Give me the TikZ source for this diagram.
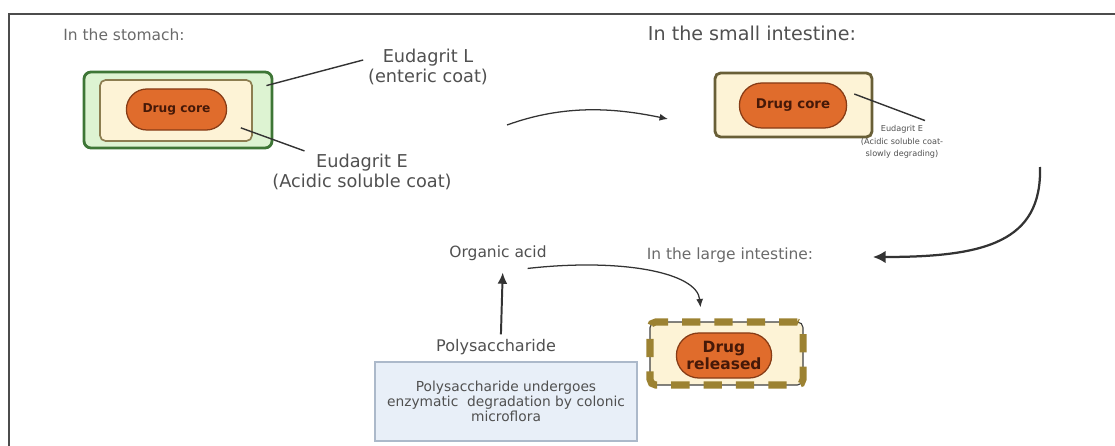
\documentclass[tikz,border=0pt]{standalone}
\usepackage{fontspec}
\setmainfont{DejaVu Sans}
\usepackage{xcolor}
\definecolor{mygreen}{RGB}{221,243,210}
\definecolor{mydarkgreen}{RGB}{62,118,54}
\definecolor{mycream}{RGB}{253,243,214}
\definecolor{myolive}{RGB}{140,125,80}
\definecolor{mydarkolive}{RGB}{105,95,55}
\definecolor{mygold}{RGB}{156,130,50}
\definecolor{myorange}{RGB}{224,108,44}
\definecolor{myrust}{RGB}{135,60,22}
\definecolor{mycoretext}{RGB}{70,25,8}
\definecolor{myblue}{RGB}{232,239,248}
\definecolor{mybluedraw}{RGB}{172,185,202}
\definecolor{mytext}{RGB}{80,80,80}
\usepackage{tikz}
\usetikzlibrary{shapes.misc,arrows.meta,positioning}

\begin{document}
\begin{tikzpicture}[
  x=0.025cm, y=-0.025cm,
  myouter/.style={
    draw=mydarkgreen,
    fill=mygreen,
    line width=2pt,
    rounded corners=5pt,
    minimum width=4.7cm,
    minimum height=1.9cm
    },
  mycoat/.style={
    draw=myolive,
    fill=mycream,
    line width=1.2pt,
    rounded corners=4pt,
    minimum width=#1
    },
  mycore/.style={
    draw=myrust,
    fill=myorange,
    line width=0.9pt,
    rounded rectangle,
    text=mycoretext,
    align=center,
    inner sep=1pt,
    font=\bfseries\fontsize{8.7}{9}\selectfont
    },
  myhead/.style={
    text=mytext!85,
    font=\fontsize{11}{12}\selectfont
    },
  mylabel/.style={
    text=mytext,
    align=center,
    font=\fontsize{12.6}{14.5}\selectfont
    },
  myline/.style={draw=black!80, line width=1pt},
  myarrow/.style={draw=black!80, line width=0.9pt, -{Latex[length=6pt,width=5pt]}}
]

\useasboundingbox (0,0) rectangle (1115,446);
\draw[line width=1.1pt, black!70] (9,446) |- (1115,14);

% stomach
\node[myhead] (stomachtxt) at (124,35) {In the stomach:};
\node[myouter] (souter) at (178,110) {};
\node[mycoat=3.8cm, minimum height=1.525cm] (scoat) at (176,110.5) {};
\node[mycore, minimum width=2.575cm, minimum height=1.025cm] (score) at (176.5,109.5) {Drug core};
\node[mylabel] (lcoat) at (428,67) {Eudagrit L\\(enteric coat)};
\node[mylabel] (ecoat) at (362,172) {Eudagrit E\\(Acidic soluble coat)};
\draw[myline] ([shift={(-7,15)}]souter.north east) -- ([shift={(0,-7)}]lcoat.west);
\draw[myline] ([shift={(-12,-14)}]scoat.south east) -- ([shift={(37,2)}]ecoat.north west);

\coordinate (s2sa) at (507,125);
\coordinate (s2sb) at (668,119);
\draw[myarrow] (s2sa) .. controls (565,104) and (615,108) .. (s2sb);

% small intestine
\node[myhead, text=mytext, font=\fontsize{13.6}{15}\selectfont] (sitxt) at (752,33) {In the small intestine:};
\node[mycoat=3.925cm, minimum height=1.6cm, draw=mydarkolive, line width=2pt] (sibox) at (793.5,105) {};
\node[mycore, minimum width=2.75cm, minimum height=1.125cm, font=\bfseries\fontsize{9.5}{10}\selectfont] (sicore) at (793,105.5) {Drug core};
\node[mylabel, font=\fontsize{5.8}{8.9}\selectfont] (siecoat) at (902,142) {Eudagrit E\\(Acidic soluble coat-\\slowly degrading)};
\draw[myline] ([shift={(7,-11.5)}]sicore.east) -- ([shift={(23,0)}]siecoat.north);

\coordinate (si2la) at (1040,167);
\coordinate (si2lb) at (873,257);
\draw[myarrow, line width=1.6pt, -{Latex[length=9pt,width=9pt]}] (si2la) .. controls (1042,242) and (985,257) .. (si2lb);

% large intestine
\node[myhead, font=\fontsize{11}{12}\selectfont] (litxt) at (730,255) {In the large intestine:};
\node[mylabel, font=\fontsize{11}{13}\selectfont] (acid) at (498,253) {Organic acid};
\node[mylabel, font=\fontsize{11.4}{13}\selectfont] (poly) at (496,347) {Polysaccharide};
\node[draw=mybluedraw, fill=myblue, line width=0.8pt, minimum width=6.55cm, minimum height=1.975cm, align=center, text=mytext, font=\fontsize{9.8}{8.8}\selectfont] (degrade) at (506,401.5) {Polysaccharide undergoes\\enzymatic\ \ degradation by colonic\\microflora};
\draw[myarrow, line width=1.4pt, -{Latex[length=8pt,width=7pt]}, shorten >=5pt] ([xshift=3.5pt]poly.north) -- ([xshift=3.5pt]acid.south);

\node[mycoat=3.825cm, minimum height=1.575cm, draw=black!75, line width=0.8pt,
  postaction={draw=mygold, line width=5pt, rounded corners=4pt, dash pattern=on 13pt off 10pt}] (libox) at (726.5,353.5) {};
\node[mycore, minimum width=2.45cm, minimum height=1.125cm, font=\bfseries\fontsize{11}{11.5}\selectfont] (licore) at (724,355.5) {Drug\\released};
\draw[myarrow] ([shift={(-24,3)}]acid.south east) .. controls (620,258) and (697,272) .. ([shift={(-26,-14)}]libox.north);

\end{tikzpicture}
\end{document}
